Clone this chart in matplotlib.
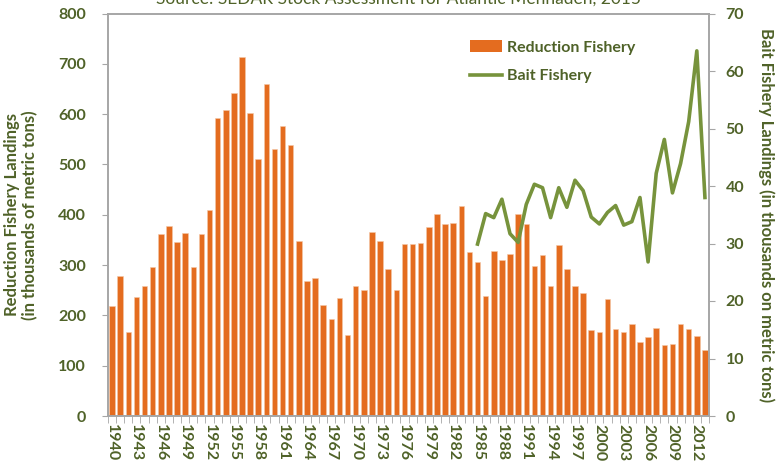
import numpy as np
import matplotlib.pyplot as plt
from matplotlib.patches import Patch
from matplotlib.lines import Line2D

# Atlantic menhaden landings (thousands of metric tons)
years = list(range(1940, 2014))
reduction = [218, 278, 167, 237, 259, 296, 362, 378, 346, 364,
             297, 361, 410, 593, 609, 642, 713, 603, 511, 660,
             530, 576, 538, 347, 269, 274, 220, 193, 235, 161,
             259, 250, 366, 347, 292, 250, 341, 341, 344, 375,
             402, 381, 383, 418, 326, 306, 238, 327, 310, 322,
             401, 381, 298, 320, 259, 340, 292, 259, 245, 171,
             166, 233, 173, 166, 183, 147, 157, 174, 141, 143,
             183, 173, 160, 131]
bait_years = list(range(1985, 2014))
bait = [29.9, 35.2, 34.5, 37.7, 31.7, 30.2, 36.8, 40.3, 39.7, 34.5,
        39.7, 36.3, 41.0, 39.2, 34.6, 33.4, 35.4, 36.6, 33.2, 33.8,
        38.0, 26.8, 42.2, 48.1, 38.8, 43.9, 51.2, 63.5, 38.0]

txt_col = '#4F6228'
bar_col = '#E46C1F'
line_col = '#77933C'
plt.rcParams['font.family'] = ['Lato', 'DejaVu Sans']

fig = plt.figure(figsize=(7.84, 4.66), dpi=100)
ax = fig.add_axes([108/784, 50/466, 601/784, 402.5/466])

x = np.arange(len(years))
ax.bar(x, reduction, width=0.68, color=bar_col, edgecolor='#F4C7A8', linewidth=0.4)
ax.set_xlim(-0.5, len(years) - 0.5)
ax.set_ylim(0, 800)
ax.set_yticks(range(0, 801, 100))

ax.set_xticks(x[::3])
ax.set_xticklabels([str(y) for y in years[::3]], rotation=270)
ax.set_xticks(np.arange(-0.5, len(years), 1), minor=True)
ax.tick_params(axis='x', which='major', length=0, pad=6, labelsize=11.5,
               labelcolor=txt_col)
ax.tick_params(axis='x', which='minor', length=5, color='#A6A6A6')
ax.tick_params(axis='y', length=4, color='#A6A6A6', labelsize=11.5,
               labelcolor=txt_col, pad=12)
for lab in ax.get_xticklabels() + ax.get_yticklabels():
    lab.set_fontweight('bold')
for s in ax.spines.values():
    s.set_color('#A6A6A6')
    s.set_linewidth(1.2)

ax.set_ylabel('Reduction Fishery Landings\n(in thousands of metric tons)',
              fontsize=12, fontweight='bold', color=txt_col, labelpad=14)

ax2 = ax.twinx()
bx = [years.index(y) for y in bait_years]
ax2.plot(bx, bait, color=line_col, linewidth=2.6)
ax2.set_ylim(0, 70)
ax2.set_yticks(range(0, 71, 10))
ax2.tick_params(axis='y', length=4, color='#A6A6A6', labelsize=11.5,
                labelcolor=txt_col, pad=8)
for lab in ax2.get_yticklabels():
    lab.set_fontweight('bold')
for s in ax2.spines.values():
    s.set_color('#A6A6A6')
    s.set_linewidth(1.2)
ax2.set_ylabel('Bait Fishery Landings (in thousands on metric tons)',
               fontsize=12, fontweight='bold', color=txt_col,
               rotation=270, labelpad=22)

handles = [Patch(facecolor=bar_col, edgecolor='none'),
           Line2D([0], [0], color=line_col, linewidth=2.6)]
leg = fig.legend(handles, ['Reduction Fishery', 'Bait Fishery'],
                 loc='upper left', bbox_to_anchor=(456/784, 1 - 26/466),
                 frameon=False, fontsize=11.5, handlelength=2.0,
                 handletextpad=0.3, labelspacing=0.9)
for t in leg.get_texts():
    t.set_color(txt_col)
    t.set_fontweight('bold')

# source line sits at the very top edge, partly clipped as in the original
fig.text(398/784, 1 - 4/466, 'Source: SEDAR Stock Assessment for Atlantic Menhaden, 2015',
         ha='center', va='baseline', fontsize=12.5, color=txt_col)

fig.savefig('out.png', dpi=100)
